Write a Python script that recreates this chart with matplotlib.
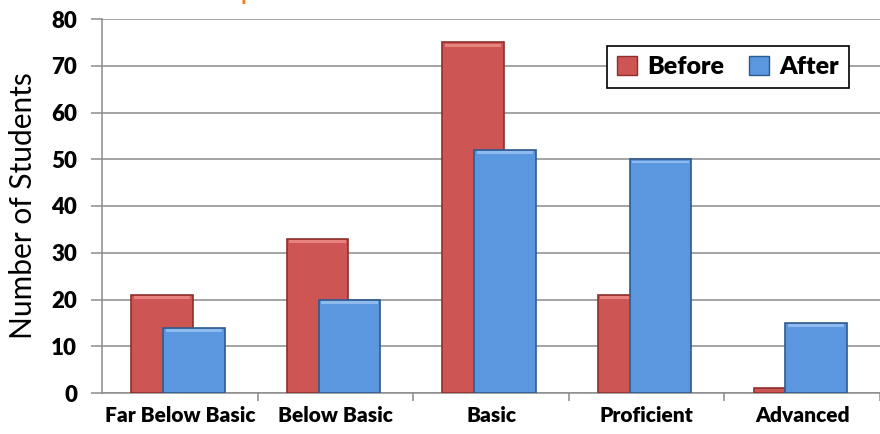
import numpy as np
import matplotlib
matplotlib.use("Agg")
import matplotlib.pyplot as plt
from matplotlib.patches import Patch

# Performance levels and student counts
levels = ["Far Below Basic", "Below Basic", "Basic", "Proficient", "Advanced"]
before = [21, 33, 75, 21, 1]
after = [14, 20, 52, 50, 15]
yticks = [0, 10, 20, 30, 40, 50, 60, 70, 80]

red, red_edge, red_hi = "#CD5654", "#8E2F2D", "#F08E8B"
blue, blue_edge, blue_hi = "#5B97DE", "#2D5A8E", "#9CC4F2"

plt.rcParams["font.family"] = ["Lato", "DejaVu Sans"]

fig = plt.figure(figsize=(8.8, 4.34), dpi=100)
ax = fig.add_axes([102 / 880, 1 - 393 / 434, 778 / 880, 374 / 434])

x = np.arange(len(levels))
w = 0.395


def bevel_bars(xs, vals, face, edge, hi, z):
    ax.bar(xs, vals, w, color=face, edgecolor=edge, linewidth=1.2, zorder=z)
    # light strip along the top of each bar
    for xi, v in zip(xs, vals):
        if v > 1.5:
            ax.bar(xi, 0.6, w * 0.92, bottom=v - 0.9, color=hi,
                   linewidth=0, zorder=z + 0.5, alpha=0.8)


bevel_bars(x - 0.115, before, red, red_edge, red_hi, 3)
bevel_bars(x + 0.09, after, blue, blue_edge, blue_hi, 4)

ax.set_ylim(0, 80)
ax.set_xlim(-0.5, -0.5 + 778 / 157.6)
ax.set_yticks(yticks)
ax.set_yticklabels([str(t) for t in yticks], fontsize=16, fontweight="heavy")
ax.grid(axis="y", color="#8C8C8C", linewidth=1.1, zorder=0)

ax.set_xticks(x)
ax.set_xticklabels(levels, fontsize=15, fontweight="heavy")
ax.tick_params(axis="x", length=0, pad=9)
ax.set_xticks(np.arange(len(levels)) + 0.5, minor=True)
ax.tick_params(axis="x", which="minor", length=6, color="#8C8C8C", width=1.1)
ax.tick_params(axis="y", length=8, color="#8C8C8C", width=1.1, pad=10)

for s in ["top", "right"]:
    ax.spines[s].set_visible(False)
for s in ["left", "bottom"]:
    ax.spines[s].set_color("#8C8C8C")
    ax.spines[s].set_linewidth(1.1)

ax.set_ylabel("Number of Students", fontsize=21.5, labelpad=10)

handles = [Patch(facecolor=red, edgecolor=red_edge), Patch(facecolor=blue, edgecolor=blue_edge)]
leg = ax.legend(handles, ["Before", "After"], ncol=2, loc="upper right",
                bbox_to_anchor=(849 / 880, 1 - 46 / 434), bbox_transform=fig.transFigure,
                borderaxespad=0, fancybox=False, framealpha=1, edgecolor="black",
                prop={"weight": "heavy", "size": 18}, handlelength=0.8, handleheight=0.8,
                columnspacing=1.0, handletextpad=0.4, borderpad=0.4)
leg.get_frame().set_linewidth(1.2)

# title sits mostly above the top edge
fig.text(452 / 880, 1.0, "Impact of Intervention on Student Performance", ha="center",
         va="baseline", color="#F07F1A", fontsize=16, fontweight="bold")

fig.savefig("out.png", dpi=100)
